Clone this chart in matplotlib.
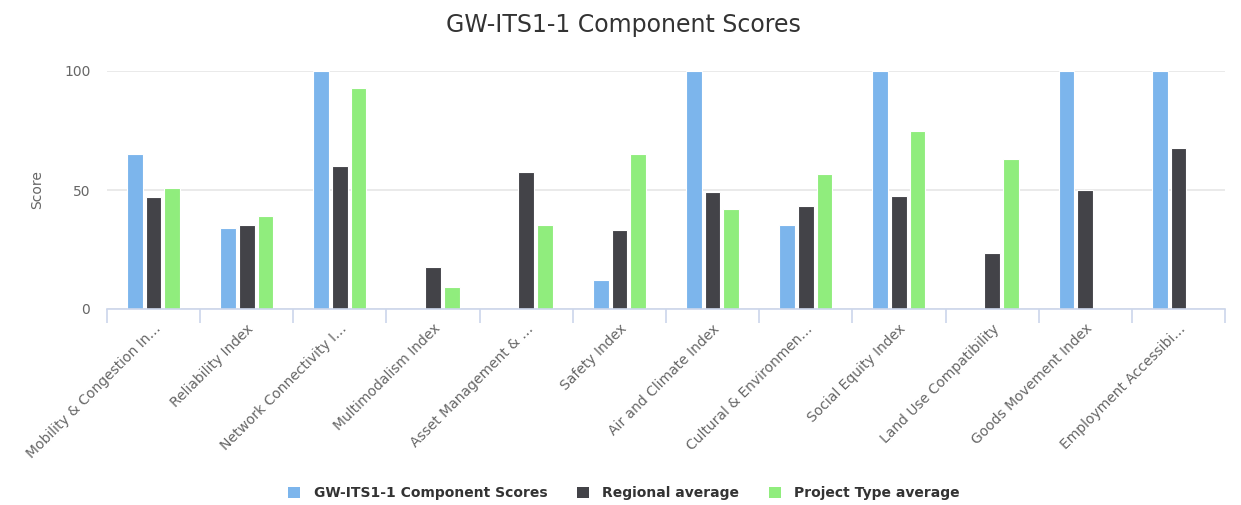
import matplotlib
matplotlib.use("Agg")
import matplotlib.pyplot as plt
import numpy as np
from matplotlib.patches import Patch

categories = ["Mobility & Congestion In…", "Reliability Index", "Network Connectivity I…",
              "Multimodalism Index", "Asset Management & …", "Safety Index",
              "Air and Climate Index", "Cultural & Environmen…", "Social Equity Index",
              "Land Use Compatibility", "Goods Movement Index", "Employment Accessibi…"]
component_scores = [65, 34.2, 100, 0, 0, 12.3, 100, 35.4, 100, 0, 100, 100]
regional_avg = [47.2, 35.4, 60, 17.8, 57.7, 33, 49.3, 43.3, 47.6, 23.7, 49.9, 67.8]
project_type_avg = [51, 39.2, 93, 9.4, 35.3, 65, 41.9, 56.6, 75, 62.9, 0, 0]
series_names = ["GW-ITS1-1 Component Scores", "Regional average", "Project Type average"]
colors = ["#7cb5ec", "#434348", "#90ed7d"]
y_ticks = [0, 50, 100]

W, H = 1241, 505
fig = plt.figure(figsize=(W/100, H/100), dpi=100)
ax = fig.add_axes([107/W, 1-309/H, (1225-107)/W, (309-71)/H])

x = np.arange(len(categories))
bw = 0.168
offs = [-0.2, 0, 0.2]
for vals, c, o, n in zip([component_scores, regional_avg, project_type_avg], colors, offs, series_names):
    ax.bar(x + o, vals, width=bw, color=c, edgecolor="white", linewidth=0.8, zorder=3, label=n)

ax.set_xlim(-0.5, len(categories)-0.5)
ax.set_ylim(0, 100)
ax.set_yticks(y_ticks)
ax.set_yticklabels([str(t) for t in y_ticks], color="#666666", fontsize=10)
ax.tick_params(axis="y", length=0, pad=12)
ax.grid(axis="y", color="#e6e6e6", linewidth=1.2, zorder=0)
for s in ["top", "right", "left"]:
    ax.spines[s].set_visible(False)
ax.spines["bottom"].set_color("#ccd6eb")
ax.spines["bottom"].set_linewidth(1.2)
ax.spines["bottom"].set_zorder(4)

ax.set_xticks(x)
ax.set_xticklabels(categories, rotation=45, ha="right", rotation_mode="anchor",
                   color="#666666", fontsize=10)
ax.tick_params(axis="x", length=0, pad=9)
ax.set_xticks(np.arange(-0.5, len(categories)), minor=True)
ax.tick_params(axis="x", which="minor", length=10, color="#ccd6eb", width=1.2)

ax.set_ylabel("Score", color="#666666", fontsize=10, labelpad=14)

fig.text(623/W, 1-25/H, "GW-ITS1-1 Component Scores", ha="center", va="center",
         fontsize=17, color="#333333")

handles = [Patch(facecolor=c, edgecolor="none") for c in colors]
leg = fig.legend(handles, series_names, loc="center", bbox_to_anchor=(624/W, 1-493/H),
                 ncol=3, frameon=False, handlelength=0.86, handleheight=0.86,
                 columnspacing=2.1, handletextpad=1.0,
                 prop={"weight": "bold", "size": 10})
for t in leg.get_texts():
    t.set_color("#333333")

fig.savefig("out.png", dpi=100)
